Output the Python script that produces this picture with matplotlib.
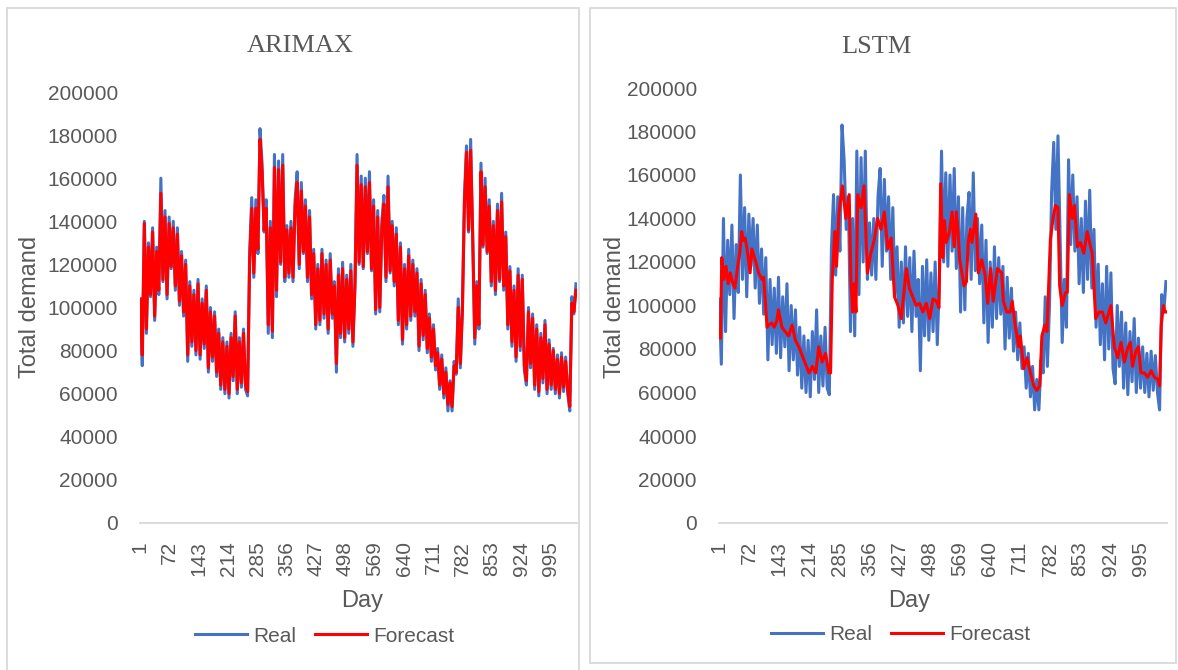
"""
Real vs forecast total demand per day: ARIMAX (left) and LSTM (right),
redrawn in the look of the original Excel charts.
"""
import matplotlib
matplotlib.use("Agg")
import matplotlib.pyplot as plt
from matplotlib.lines import Line2D
from matplotlib.patches import Rectangle
import numpy as np

W, H = 1178, 670
N_DAYS = 1058
TICK_DAYS = list(range(1, 1000, 71))  # 1, 72, ..., 995

# real daily demand (thousands), read every 5th day starting at day 1
REAL_K = [
    103, 73, 140, 88, 130, 105, 137, 94, 128, 106,
    160, 112, 145, 104, 142, 118, 140, 108, 137, 101,
    126, 96, 122, 75, 112, 82, 108, 78, 113, 76,
    104, 81, 110, 70, 100, 75, 98, 68, 90, 62,
    86, 60, 84, 58, 88, 66, 98, 60, 86, 63,
    90, 62, 59, 126, 151, 114, 150, 125, 183, 167,
    135, 150, 88, 140, 86, 171, 105, 168, 120, 171,
    112, 138, 114, 140, 112, 150, 163, 118, 158, 125,
    150, 112, 145, 104, 127, 90, 120, 92, 127, 95,
    122, 88, 125, 95, 112, 70, 118, 86, 121, 84,
    115, 88, 120, 82, 112, 171, 120, 161, 118, 160,
    125, 163, 117, 150, 97, 145, 98, 140, 152, 112,
    161, 116, 140, 110, 137, 92, 130, 83, 120, 90,
    127, 94, 122, 96, 118, 80, 113, 85, 108, 79,
    97, 75, 92, 71, 81, 62, 78, 58, 72, 52,
    66, 52, 75, 69, 104, 72, 100, 152, 175, 135,
    178, 132, 83, 112, 90, 167, 128, 160, 125, 150,
    110, 140, 106, 148, 112, 153, 108, 135, 90, 119,
    82, 110, 75, 118, 80, 115, 71, 64, 100, 72,
    97, 62, 92, 59, 88, 65, 94, 60, 85, 62,
    81, 60, 78, 58, 79, 61, 77, 60, 52, 105,
    97, 111,
]

# ARIMAX forecast (thousands), same days as REAL_K
ARIMAX_K = [
    104, 78, 139, 90, 128, 106, 135, 96, 126, 108,
    153, 113, 142, 106, 139, 119, 137, 110, 134, 103,
    124, 98, 120, 78, 110, 84, 106, 80, 111, 78,
    102, 83, 108, 72, 98, 77, 96, 70, 88, 64,
    84, 62, 82, 60, 86, 68, 96, 62, 84, 65,
    88, 64, 61, 122, 146, 116, 146, 127, 178, 163,
    136, 146, 92, 137, 89, 165, 108, 164, 121, 166,
    114, 136, 116, 137, 114, 147, 158, 120, 154, 126,
    147, 114, 142, 106, 125, 92, 118, 94, 125, 97,
    120, 90, 122, 97, 110, 74, 115, 88, 118, 86,
    113, 90, 117, 84, 110, 166, 121, 157, 119, 156,
    126, 158, 118, 147, 99, 142, 100, 137, 148, 114,
    156, 117, 138, 112, 134, 94, 128, 85, 118, 92,
    124, 96, 120, 98, 116, 82, 111, 87, 106, 81,
    95, 77, 90, 73, 79, 64, 76, 60, 70, 55,
    65, 54, 73, 70, 100, 74, 98, 148, 172, 136,
    173, 133, 86, 110, 92, 163, 129, 156, 126, 147,
    112, 138, 108, 145, 113, 149, 110, 133, 92, 117,
    84, 108, 77, 115, 82, 113, 73, 66, 98, 74,
    95, 64, 90, 61, 86, 67, 92, 62, 83, 64,
    80, 62, 76, 60, 77, 63, 75, 62, 54, 102,
    98, 108,
]

# LSTM forecast (smoother), read at its turning points
LSTM_DAYS = [
    1, 4, 7, 12, 17, 22, 27, 32, 38, 46, 50, 54, 58, 62, 66, 74, 78, 86, 94, 102,
    106, 114, 118, 125, 131, 137, 141, 149, 157, 165, 173, 181, 189, 197, 205, 213,
    221, 229, 236, 244, 252, 260, 264, 268, 274, 278, 284, 292, 300, 308, 312, 316,
    320, 324, 328, 336, 343, 351, 359, 367, 375, 383, 391, 399, 407, 415, 423, 431,
    443, 450, 458, 466, 474, 482, 490, 498, 506, 514, 520, 524, 529, 533, 537, 545,
    551, 556, 561, 565, 569, 575, 579, 585, 589, 594, 598, 607, 613, 621, 629, 635,
    642, 648, 658, 668, 672, 680, 688, 693, 700, 708, 712, 720, 728, 736, 744, 751,
    758, 763, 770, 775, 783, 790, 795, 801, 805, 811, 819, 823, 828, 835, 840, 847,
    854, 862, 870, 878, 882, 890, 898, 906, 914, 926, 934, 942, 950, 958, 965, 972,
    977, 985, 991, 997, 1005, 1013, 1021, 1029, 1037, 1041, 1045, 1050, 1054, 1058,
]
LSTM_K = [
    88, 85, 122, 112, 118, 110, 115, 111, 108, 120, 125, 134, 130, 131, 127, 115, 126, 121, 115, 112,
    113, 90, 91, 92, 90, 93, 98, 90, 88, 86, 91, 84, 81, 77, 73, 69,
    72, 69, 81, 74, 78, 69, 69, 112, 134, 118, 143, 155, 140, 151, 112, 97,
    110, 97, 151, 145, 155, 115, 124, 130, 140, 135, 143, 126, 131, 104, 100, 94,
    117, 108, 104, 100, 101, 97, 101, 94, 103, 102, 99, 156, 122, 139, 129, 134,
    143, 127, 143, 134, 121, 114, 109, 111, 129, 135, 129, 142, 115, 121, 114, 101,
    117, 102, 117, 115, 102, 97, 97, 102, 91, 81, 86, 71, 76, 69, 63, 61,
    63, 86, 91, 88, 130, 141, 146, 145, 109, 100, 106, 106, 151, 140, 146, 127,
    129, 124, 134, 127, 124, 94, 97, 97, 92, 100, 81, 76, 83, 74, 80, 83,
    72, 79, 81, 69, 69, 67, 70, 67, 66, 63, 91, 100, 97, 97,
]

BLUE = "#4472C4"
RED = "#FF0000"
TEXT = "#595959"
BORDER = "#d9d9d9"
SANS = "Liberation Sans"
SERIF = "Liberation Serif"


def px_box(x0, y0, x1, y1):
    """pixel box (top-left origin) -> figure fraction rect"""
    return [x0 / W, 1 - y1 / H, (x1 - x0) / W, (y1 - y0) / H]


def style_axis(ax):
    ax.set_xlim(0.5, N_DAYS + 0.5)
    ax.set_ylim(0, 200000)
    ax.set_yticks(range(0, 200001, 20000))
    ax.set_yticklabels([str(v) for v in range(0, 200001, 20000)])
    ax.set_xticks(TICK_DAYS)
    ax.set_xticklabels([str(d) for d in TICK_DAYS], rotation=90)
    for side in ("top", "right", "left"):
        ax.spines[side].set_visible(False)
    ax.spines["bottom"].set_color(BORDER)
    ax.spines["bottom"].set_linewidth(1.3)
    ax.tick_params(axis="y", length=0, pad=16, labelsize=15, labelcolor=TEXT)
    ax.tick_params(axis="x", length=0, pad=13, labelsize=15, labelcolor=TEXT)
    for lab in ax.get_xticklabels() + ax.get_yticklabels():
        lab.set_fontfamily(SANS)


def draw_panel(fig, rect, border, title_xy, ylabel_xy, xlabel_xy, legend_xy,
               title, forecast_days, forecast_k):
    fig.add_artist(Rectangle((border[0], border[1]), border[2], border[3],
                             transform=fig.transFigure, fill=False,
                             edgecolor=BORDER, lw=1.3))
    ax = fig.add_axes(rect)
    real_days = np.arange(len(REAL_K)) * 5 + 1
    ax.plot(real_days, np.array(REAL_K) * 1000, color=BLUE, lw=2.2, zorder=3)
    ax.plot(forecast_days, np.array(forecast_k) * 1000, color=RED, lw=2.2, zorder=4)
    style_axis(ax)

    fig.text(title_xy[0] / W, 1 - title_xy[1] / H, title, family=SERIF,
             fontsize=19, color=TEXT, ha="center", va="center")
    fig.text(ylabel_xy[0] / W, 1 - ylabel_xy[1] / H, "Total demand", family=SANS,
             fontsize=17, color=TEXT, rotation=90, ha="center", va="center")
    fig.text(xlabel_xy[0] / W, 1 - xlabel_xy[1] / H, "Day", family=SANS,
             fontsize=17, color=TEXT, ha="center", va="center")
    handles = [Line2D([], [], color=BLUE, lw=2.2), Line2D([], [], color=RED, lw=2.2)]
    fig.legend(handles, ["Real", "Forecast"], loc="center", ncol=2, frameon=False,
               bbox_to_anchor=(legend_xy[0] / W, 1 - legend_xy[1] / H),
               prop={"family": SANS, "size": 15}, labelcolor=TEXT,
               handlelength=2.5, handletextpad=0.3, columnspacing=0.9)
    return ax


def main():
    fig = plt.figure(figsize=(W / 100, H / 100), dpi=100)
    arimax_days = np.arange(len(ARIMAX_K)) * 5 + 1

    draw_panel(fig, px_box(140, 92, 577, 523), px_box(7, 8, 579, 673),
               (300, 46), (30, 307), (362, 601), (325, 636),
               "ARIMAX", arimax_days, ARIMAX_K)
    draw_panel(fig, px_box(719, 88, 1167, 523), px_box(590, 8, 1176, 663),
               (876, 47), (615, 307), (909, 601), (901, 635),
               "LSTM", LSTM_DAYS, LSTM_K)

    fig.savefig("out.png", dpi=100)
    plt.close(fig)


if __name__ == "__main__":
    main()
